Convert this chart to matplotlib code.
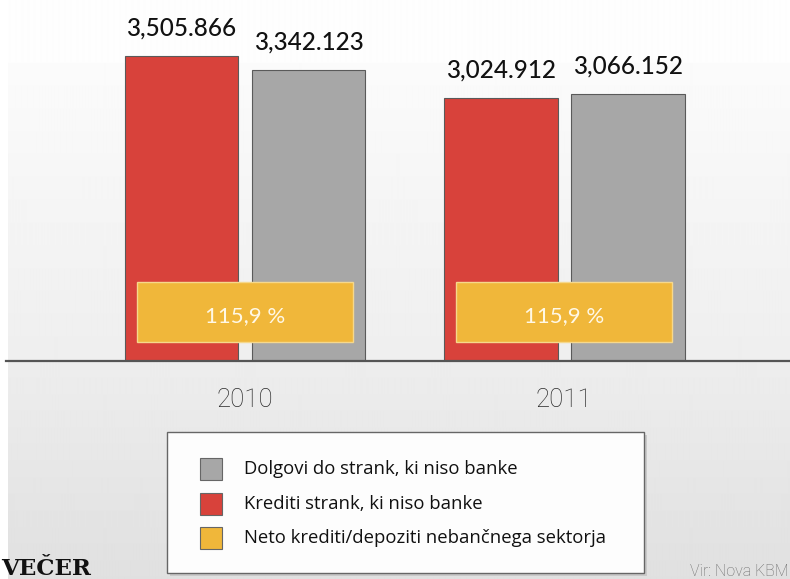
import matplotlib
matplotlib.use('Agg')
import matplotlib.pyplot as plt
import matplotlib.transforms as mtransforms
from matplotlib.patches import Rectangle
import numpy as np

# ---- data ----
years = ['2010', '2011']
krediti = [3505.866, 3024.912]     # red
dolgovi = [3342.123, 3066.152]     # gray
neto = ['115,9 %', '115,9 %']      # yellow box labels
names = ['Dolgovi do strank, ki niso banke',
         'Krediti strank, ki niso banke',
         'Neto krediti/depoziti nebančnega sektorja']

RED = '#d8423b'
GRAY = '#a7a7a7'
YELLOW = '#f0b73a'

W, H = 790, 579
fig = plt.figure(figsize=(7.9, 5.79), dpi=100)
fig.patch.set_facecolor('white')

def fx(px):
    return px / W

def fy(py):
    return 1 - py / H

## background gradient
bg = fig.add_axes([fx(8), 0, 1 - fx(8), 1])
rows = np.arange(H)
lev = np.where(rows <= 361,
               np.interp(rows, [0, 62, 63, 361], [254, 254, 251, 238]),
               np.interp(rows, [362, 579], [237, 224]))
bg.imshow(np.repeat(lev[:, None], 4, axis=1), cmap='gray', vmin=0, vmax=255,
          aspect='auto', extent=[0, 1, 0, 1], interpolation='bilinear')
bg.axis('off')

## main bars
ax = fig.add_axes([fx(6), fy(361), 1 - fx(6), 361 / H])
ax.patch.set_alpha(0)
x = np.arange(len(years))
w = 0.357
off = 0.199
ax.bar(x - off, krediti, w, color=RED, edgecolor='#5a5a5a', linewidth=0.8, zorder=2)
ax.bar(x + off, dolgovi, w, color=GRAY, edgecolor='#5a5a5a', linewidth=0.8, zorder=2)
ax.set_xlim(-0.749, 1.708)
ax.set_ylim(0, 4150)
ax.axis('off')
ax.axhline(0, color='#555555', linewidth=1.6, zorder=3, clip_on=False)

for i in range(len(years)):
    for xp, v in [(x[i] - off, krediti[i]), (x[i] + off, dolgovi[i])]:
        ax.annotate(f"{v:,.3f}", (xp, v), xytext=(0, 14.8), textcoords='offset points',
                    ha='center', va='baseline', fontsize=17.5, family='Lato',
                    weight='medium', color='#111111')

tr = mtransforms.blended_transform_factory(ax.transData, fig.transFigure)
for i in range(len(years)):
    ax.add_patch(Rectangle((x[i] - 0.339, fy(342)), 0.678, (342 - 282) / H,
                           transform=tr, facecolor=YELLOW, edgecolor='#f6d88c',
                           linewidth=1, zorder=4, clip_on=False))
    ax.text(x[i], fy(322), neto[i], transform=tr, ha='center', va='baseline',
            fontsize=16, family='Lato', color='#fff8e6', zorder=5)
    ax.text(x[i], fy(407), years[i], transform=tr, ha='center', va='baseline',
            fontsize=18.5, family='Roboto', weight='light', color='#2a2a2a')

## legend box
fig.patches.append(Rectangle((fx(170), fy(576)), fx(644 - 167), (573 - 432) / H,
                             transform=fig.transFigure, facecolor='#c9c9c9',
                             edgecolor='none', zorder=1))
fig.patches.append(Rectangle((fx(167), fy(573)), fx(644 - 167), (573 - 432) / H,
                             transform=fig.transFigure, facecolor='#fdfdfd',
                             edgecolor='#666666', linewidth=1, zorder=2))
leg_colors = [GRAY, RED, YELLOW]
tops = [458, 493, 527]
for name, c, t in zip(names, leg_colors, tops):
    fig.patches.append(Rectangle((fx(200), fy(t + 22)), fx(22), 22 / H,
                                 transform=fig.transFigure, facecolor=c,
                                 edgecolor='#666666', linewidth=0.8, zorder=3))
    fig.text(fx(244), fy(t + 11), name, ha='left', va='center', fontsize=13.3,
             family='Open Sans', color='#111111', zorder=4)

## footer
fig.text(fx(1), fy(575), 'VEČER', ha='left', va='baseline', fontsize=16.5,
         family='DejaVu Serif', weight='bold', color='#111111')
fig.text(fx(789), fy(576), 'Vir: Nova KBM', ha='right', va='baseline', fontsize=11.5,
         family='Roboto', weight='light', color='#6a6a6a')

fig.savefig('out.png', dpi=100)
